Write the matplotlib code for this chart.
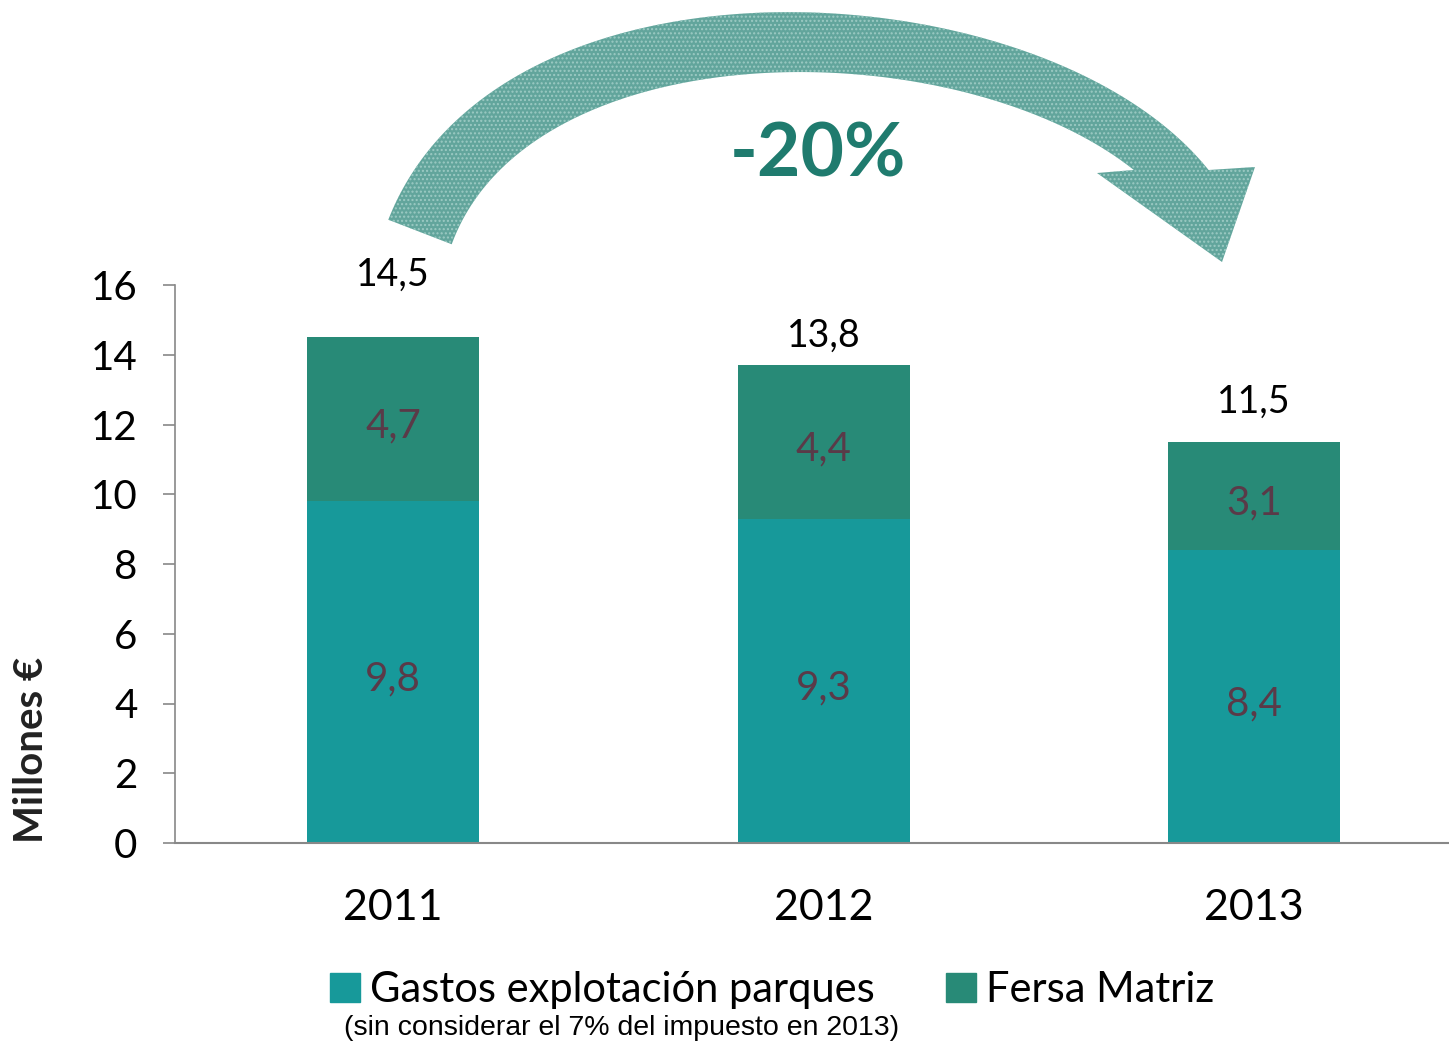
import numpy as np
import matplotlib
matplotlib.use("Agg")
from matplotlib import pyplot as plt
from matplotlib.patches import Polygon, Patch

years = ["2011", "2012", "2013"]
gastos = [9.8, 9.3, 8.4]
matriz = [4.7, 4.4, 3.1]
totals = ["14,5", "13,8", "11,5"]
y_ticks = [0, 2, 4, 6, 8, 10, 12, 14, 16]

c_gastos = "#17999a"
c_matriz = "#288a77"
c_seg_txt = "#5a3a48"
c_arrow = "#62a59c"

plt.rcParams["font.family"] = ["Lato", "DejaVu Sans"]

W, H = 1449, 1045
fig = plt.figure(figsize=(W / 100, H / 100), dpi=100)
ax = fig.add_axes([175 / W, 1 - 843 / H, 1 - 175 / W, (843 - 285) / H])

x = np.arange(len(years))
ax.bar(x, gastos, width=0.4, color=c_gastos)
ax.bar(x, matriz, width=0.4, bottom=gastos, color=c_matriz)

def fmt(v):
    return f"{v:.1f}".replace(".", ",")

for i in range(len(years)):
    ax.text(x[i], gastos[i] / 2 - 0.2, fmt(gastos[i]), ha="center", va="center",
            fontsize=29, color=c_seg_txt)
    ax.text(x[i], gastos[i] + matriz[i] / 2 - 0.2, fmt(matriz[i]), ha="center", va="center",
            fontsize=29, color=c_seg_txt)

# total labels, offsets differ per bar like the original
offsets = [32, 8, 16]
for i in range(len(years)):
    ax.annotate(totals[i], (x[i], gastos[i] + matriz[i]), xytext=(0, offsets[i]),
                textcoords="offset points", ha="center", va="bottom", fontsize=27)

ax.set_xlim(-0.507, 2.453)
ax.set_ylim(0, 16)
ax.set_yticks(y_ticks)
ax.set_xticks(x)
ax.set_xticklabels(years)
ax.tick_params(axis="y", labelsize=29, length=9, width=1.2, color="#888888", pad=18)
ax.tick_params(axis="x", labelsize=31, length=0, pad=33)
for s in ["top", "right"]:
    ax.spines[s].set_visible(False)
ax.spines["left"].set_color("#888888")
ax.spines["bottom"].set_color("#888888")
ax.spines["left"].set_linewidth(1.2)
ax.spines["bottom"].set_linewidth(1.5)

fig.text(32 / W, 1 - 750 / H, "Millones €", rotation=90, ha="center", va="center",
         fontsize=29, fontweight="bold", color="#222222")

# curved arrow (decoration), built in figure pixel space (y down)
t = np.linspace(0, 1, 400)
P0, P1, P2, P3 = map(np.array, [(420, 232), (520, -30), (1050, 0), (1195, 195)])
pts = ((1 - t) ** 3)[:, None] * P0 + (3 * (1 - t) ** 2 * t)[:, None] * P1 \
    + (3 * (1 - t) * t ** 2)[:, None] * P2 + (t ** 3)[:, None] * P3
d = np.gradient(pts, axis=0)
d /= np.linalg.norm(d, axis=1)[:, None]
n = np.stack([d[:, 1], -d[:, 0]], axis=1)
hw = (34 - 8 * t)[:, None]
a = pts - n * hw   # inner arc
b = pts + n * hw   # outer arc

def cut(edge, ycut):
    idx = np.arange(len(edge))
    i = np.argmax((edge[:, 1] >= ycut) & (idx > len(edge) // 2))
    p, q = edge[i - 1], edge[i]
    f = (ycut - p[1]) / (q[1] - p[1])
    return np.vstack([edge[:i], p + f * (q - p)])

y_cut = 170
head = [(1097, 173), (1222, 262), (1255, 167)]
poly = np.vstack([cut(a, y_cut), head, cut(b, y_cut)[::-1]])
poly_fig = np.column_stack([poly[:, 0] / W, 1 - poly[:, 1] / H])
fig.add_artist(Polygon(poly_fig, closed=True, facecolor=c_arrow, edgecolor="none",
                       transform=fig.transFigure))
fig.add_artist(Polygon(poly_fig, closed=True, fill=False, edgecolor="#9ccac3", lw=0,
                       hatch="....", transform=fig.transFigure))

fig.text(818 / W, 1 - 155 / H, "-20%", ha="center", va="center", fontsize=54,
         fontweight="bold", color="#1f7b6e")

# legend
handles = [Patch(color=c_gastos), Patch(color=c_matriz)]
fig.legend(handles, ["Gastos explotación parques", "Fersa Matriz"], ncol=2,
           loc="center", bbox_to_anchor=(772 / W, 1 - 990 / H), frameon=False,
           fontsize=30, handlelength=0.72, handleheight=0.72, handletextpad=0.25,
           columnspacing=1.7, borderpad=0)
fig.text(622 / W, 1 - 1028 / H, "(sin considerar el 7% del impuesto en 2013)",
         ha="center", va="center", fontsize=20.5, family="Liberation Sans")

fig.savefig("out.png", dpi=100)
